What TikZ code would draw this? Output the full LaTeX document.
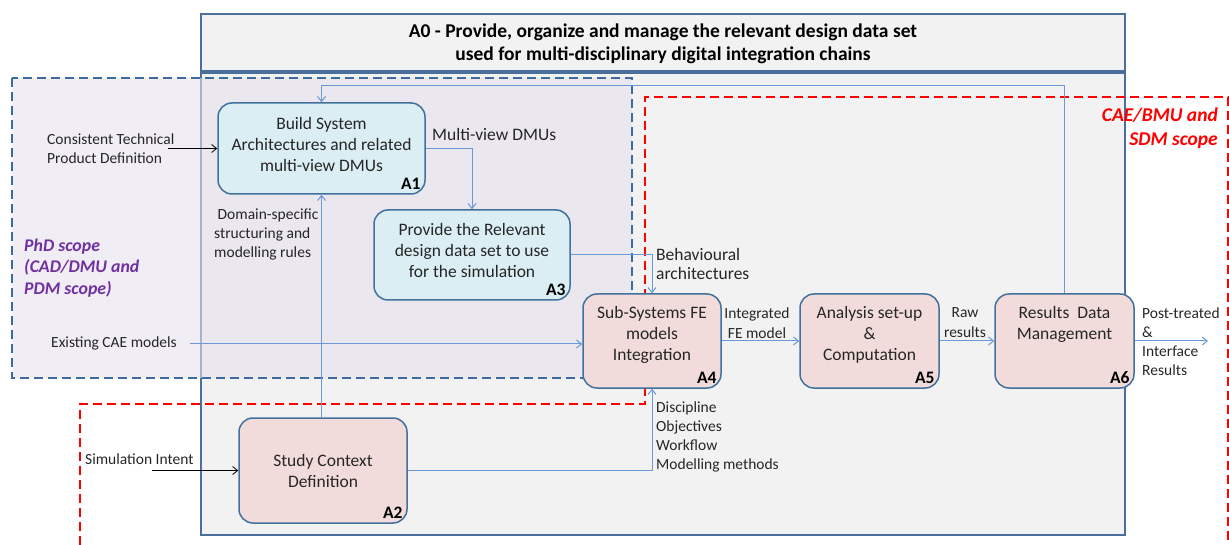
\documentclass[tikz,border=0pt]{standalone}
\usepackage{fontspec}
\setmainfont{Carlito}
\usetikzlibrary{arrows.meta}
\definecolor{frameblue}{HTML}{4A6F9C}
\definecolor{boxblue}{HTML}{41719C}
\definecolor{cyanfill}{HTML}{DBEEF4}
\definecolor{pinkfill}{HTML}{F2DCDB}
\definecolor{bodyfill}{HTML}{F2F2F2}
\definecolor{phdblue}{HTML}{3D6AA0}
\definecolor{phdfill}{HTML}{E6E1EE}
\definecolor{connblue}{HTML}{6B98D6}
\definecolor{purp}{HTML}{7030A0}
\definecolor{txt}{HTML}{262626}
\tikzset{
  stepbox/.style={draw=boxblue, line width=1.5pt, rounded corners=14pt},
  cyanbox/.style={stepbox, fill=cyanfill},
  pinkbox/.style={stepbox, fill=pinkfill},
  boxtext/.style={text=txt, align=center, font=\fontsize{17.5}{21}\selectfont, inner sep=0pt},
  idlabel/.style={text=black, font=\bfseries\fontsize{17.5}{18}\selectfont, inner sep=0pt, anchor=south east},
  lbl/.style={text=txt, align=left, font=\fontsize{15.5}{19}\selectfont, inner sep=0pt, anchor=west},
  lblc/.style={text=txt, align=center, font=\fontsize{15.5}{20}\selectfont, inner sep=0pt},
  lblbig/.style={text=txt, align=left, font=\fontsize{17.5}{19}\selectfont, inner sep=0pt, anchor=west},
  conn/.style={draw=connblue, line width=1pt, -{Straight Barb[length=5pt,width=8pt]}},
  blackarr/.style={draw=black, line width=0.8pt, -{Straight Barb[length=5pt,width=8pt]}},
  phddash/.style={draw=phdblue, line width=2.2pt, dash pattern=on 9pt off 5pt},
  reddash/.style={draw=red, line width=2.2pt, dash pattern=on 9pt off 5pt}
}
\begin{document}
\begin{tikzpicture}[x=1pt,y=-1pt]
\useasboundingbox (0,0) rectangle (1229,545);
% A0 frame
\draw[draw=frameblue, line width=1.5pt, fill=bodyfill] (201,14) rectangle (1125,71);
\draw[draw=frameblue, line width=1.5pt, fill=bodyfill] (201,73) rectangle (1125,535);
\node[font=\bfseries\fontsize{19.5}{23}\selectfont, align=center, text=black, inner sep=0pt] (title) at (663,43.5)
  {A0 - Provide, organize and manage the relevant design data set\\used for multi-disciplinary digital integration chains};
% PhD scope region
\fill[phdfill, fill opacity=0.6] (12,78) rectangle (632,378);
\draw[phddash] (12,78) rectangle (632,378);
% CAE scope region
\draw[reddash] (80,545) -- (80,404) -- (645,404) -- (645,97) -- (1228,97) -- (1228,545);
% scope labels
\node[font=\bfseries\itshape\fontsize{17.8}{21.5}\selectfont, text=purp, align=left, anchor=west, inner sep=0pt] (phd) at (24,268)
  {PhD scope\\(CAD/DMU and\\PDM scope)};
\node[font=\bfseries\itshape\fontsize{19.5}{24}\selectfont, text=red, align=right, anchor=east, inner sep=0pt] (cae) at (1218,128)
  {CAE/BMU and\\SDM scope};
% boxes
\node[cyanbox, minimum width=207pt, minimum height=91pt] (A1) at (321.5,148.5) {};
\node[cyanbox, minimum width=196pt, minimum height=90pt] (A3) at (472,255) {};
\node[pinkbox, minimum width=138pt, minimum height=94pt] (A4) at (652,341) {};
\node[pinkbox, minimum width=139pt, minimum height=94pt] (A5) at (869.5,341) {};
\node[pinkbox, minimum width=139pt, minimum height=94pt] (A6) at (1064.5,341) {};
\node[pinkbox, minimum width=168pt, minimum height=105pt] (A2) at (323,470.5) {};
% box texts
\node[boxtext] (A1t) at (321.5,144) {Build System\\Architectures and related\\multi-view DMUs};
\node[boxtext] (A3t) at (472,250.5) {Provide the Relevant\\design data set to use\\for the simulation};
\node[boxtext] (A4t) at (652,335) {Sub-Systems FE\\models\\Integration};
\node[boxtext] (A5t) at (869.5,335) {Analysis set-up\\\&\\Computation};
\node[boxtext] (A6t) at (1064.5,324) {Results\ \ Data\\Management};
\node[boxtext] (A2t) at (323,470.5) {Study Context\\Definition};
% ids
\node[idlabel] (A1id) at ([shift={(-5,-5)}]A1.south east) {A1};
\node[idlabel] (A3id) at ([shift={(-5,-5)}]A3.south east) {A3};
\node[idlabel] (A4id) at ([shift={(-5,-5)}]A4.south east) {A4};
\node[idlabel] (A5id) at ([shift={(-5,-5)}]A5.south east) {A5};
\node[idlabel] (A6id) at ([shift={(-5,-5)}]A6.south east) {A6};
\node[idlabel] (A2id) at ([shift={(-5,-5)}]A2.south east) {A2};
% free ends
\coordinate (ctp) at (168,148.5);
\coordinate (cae0) at (190,344);
\coordinate (si) at (152,470.5);
\coordinate (fb) at (321.5,86);
\coordinate (out) at (1208,341);
% connectors
\draw[blackarr] (ctp) -- (A1.west);
\draw[blackarr] (si) -- (A2.west);
\draw[conn] (A1.east) -| (A3.north);
\draw[conn] (A3.east) -| (A4.north);
\draw[conn] (cae0) -- (A4.west |- cae0);
\draw[conn] (A4.east) -- (A5.west);
\draw[conn] (A5.east) -- (A6.west);
\draw[conn] (A6.east) -- (out);
\draw[conn] (A6.north) |- (fb) -- (A1.north);
\draw[conn] (A2.north -| A1.south) -- (A1.south);
\draw[conn] (A2.east) -| (A4.south);
% labels
\node[lbl] (l1) at (47,148.5) {Consistent Technical\\Product Definition};
\node[lblbig] (l2) at (432,134) {Multi-view DMUs};
\node[lbl] (l3) at (214,234) {\ Domain-specific\\structuring and\\modelling rules};
\node[lblbig] (l4) at (656,263.5) {Behavioural\\architectures};
\node[lbl] (l5) at (51,343) {Existing CAE models};
\node[lblc] (l6) at (757,323) {Integrated\\FE model};
\node[lblc] (l7) at (965,323) {Raw\\results};
\node[lbl] (l8) at (1142,341.5) {Post-treated\\\&\\Interface\\Results};
\node[lbl] (l9) at (85,459) {Simulation Intent};
\node[lbl] (l10) at (656,436.5) {Discipline\\Objectives\\Workflow\\Modelling methods};
\end{tikzpicture}
\end{document}
